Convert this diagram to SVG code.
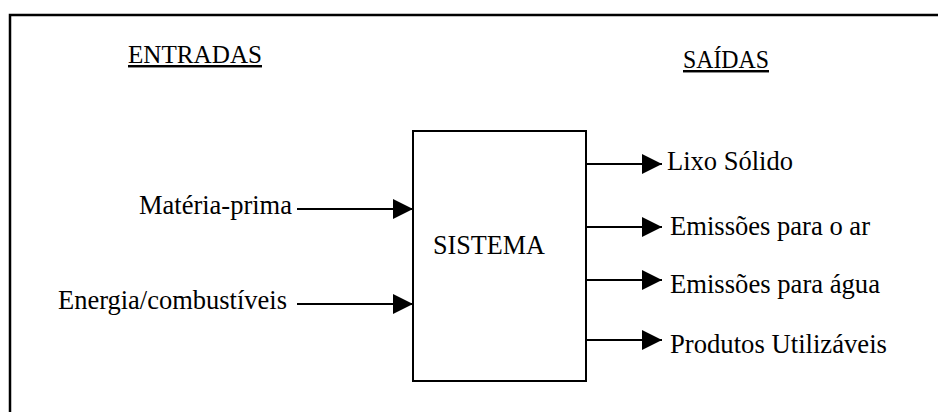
<svg xmlns="http://www.w3.org/2000/svg" width="938" height="412" viewBox="0 0 938 412">
  <style>
    text { font-family: "Liberation Serif", "Times New Roman", Times, serif; font-size: 26.5px; fill: #000; }
    .title { font-size: 24.5px; text-decoration: underline; }
    .frame { fill: none; stroke: #000; stroke-width: 2.5; }
    .box { fill: #fff; stroke: #000; stroke-width: 2; }
    .flow { fill: none; stroke: #000; stroke-width: 2; marker-end: url(#head); }
  </style>
  <defs>
    <marker id="head" markerUnits="userSpaceOnUse" markerWidth="22" markerHeight="22" refX="20" refY="10" orient="auto">
      <path d="M0,0 L20,10 L0,20 Z" fill="#000"/>
    </marker>
  </defs>

  <rect width="938" height="412" fill="#fff"/>
  <!-- open frame: only the top and left borders fall inside the page -->
  <path class="frame" d="M10,420 L10,15 L945,15"/>

  <g font-family="Liberation Serif, serif">
    <g id="title-entradas"><text class="title" x="128" y="63" textLength="134" lengthAdjust="spacingAndGlyphs">ENTRADAS</text></g>
    <g id="title-saidas"><text class="title" x="683" y="68" textLength="86" lengthAdjust="spacingAndGlyphs">SAÍDAS</text></g>

    <g id="sistema">
      <rect class="box" x="413" y="131" width="173" height="250"/>
      <text x="433" y="254" textLength="112" lengthAdjust="spacingAndGlyphs">SISTEMA</text>
    </g>

    <g id="in-materia"><text x="139" y="214" textLength="153" lengthAdjust="spacingAndGlyphs">Matéria-prima</text></g>
    <g id="in-energia"><text x="58" y="309" textLength="229" lengthAdjust="spacingAndGlyphs">Energia/combustíveis</text></g>

    <g id="out-lixo"><text x="667" y="170" textLength="126" lengthAdjust="spacingAndGlyphs">Lixo Sólido</text></g>
    <g id="out-ar"><text x="670" y="235" textLength="200" lengthAdjust="spacingAndGlyphs">Emissões para o ar</text></g>
    <g id="out-agua"><text x="670" y="293" textLength="210" lengthAdjust="spacingAndGlyphs">Emissões para água</text></g>
    <g id="out-produtos"><text x="670" y="353" textLength="217" lengthAdjust="spacingAndGlyphs">Produtos Utilizáveis</text></g>
  </g>

  <g id="connectors">
    <path class="flow" d="M297,209 L413,209"/>
    <path class="flow" d="M297,304 L413,304"/>
    <path class="flow" d="M586,164 L662,164"/>
    <path class="flow" d="M586,227 L662,227"/>
    <path class="flow" d="M586,280 L662,280"/>
    <path class="flow" d="M586,340 L662,340"/>
  </g>
</svg>
